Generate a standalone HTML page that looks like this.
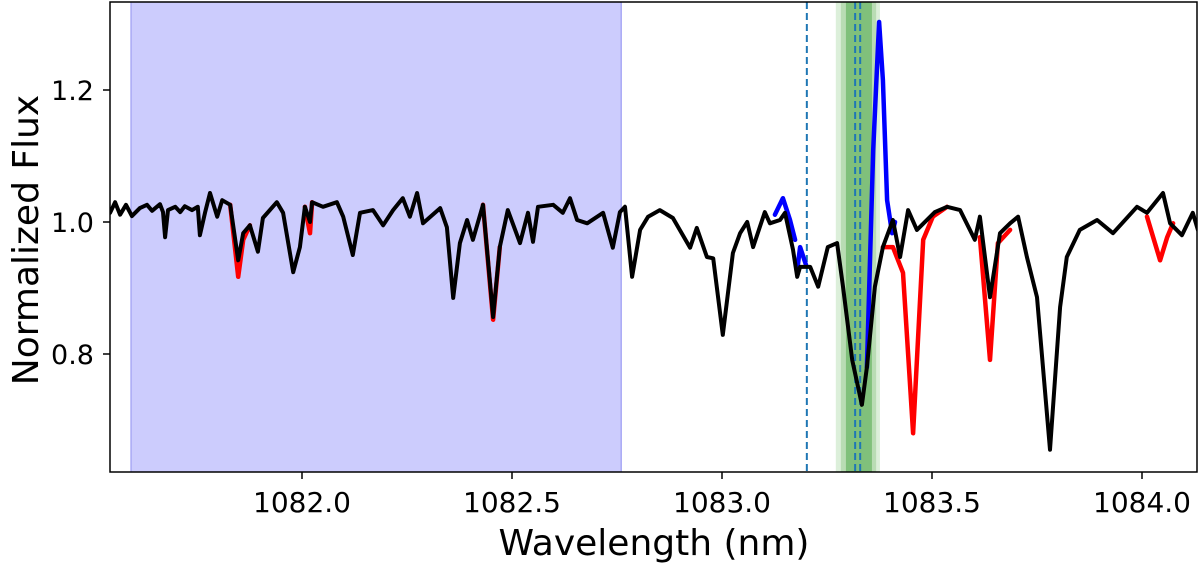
<!DOCTYPE html>
<html><head><meta charset="utf-8"><style>
html,body{margin:0;padding:0;background:#fff;}
svg{display:block;font-family:"DejaVu Sans","Liberation Sans",sans-serif;}
</style></head><body>
<svg id="chart" width="1200" height="564" viewBox="0 0 1200 564" xmlns="http://www.w3.org/2000/svg">
<defs><clipPath id="clip"><rect x="110" y="2" width="1087" height="470"/></clipPath></defs>
<g id="bg" clip-path="url(#clip)"></g>
<g id="lines" clip-path="url(#clip)"></g>
<rect x="110" y="2" width="1087" height="470" fill="none" stroke="#000" stroke-width="1.5"/>
<g id="axes"></g>
<text x="654" y="555" text-anchor="middle" font-size="36">Wavelength (nm)</text>
<text transform="translate(38,240) rotate(-90)" text-anchor="middle" font-size="36">Normalized Flux</text>
</svg>
<script>
const xTicks=[1082.0,1082.5,1083.0,1083.5,1084.0];
const xTickLabels=["1082.0","1082.5","1083.0","1083.5","1084.0"];
const yTicks=[0.8,1.0,1.2];
const yTickLabels=["0.8","1.0","1.2"];
const maskSpan=[1081.593,1082.760];
const dashedLines=[1083.202,1083.317,1083.329];
const greenBands=[[1083.271,1083.376],[1083.283,1083.367],[1083.295,1083.357]];
const blackWave=[1081.543,1081.555,1081.567,1081.581,1081.595,1081.614,1081.631,1081.643,1081.662,1081.669,1081.674,1081.681,1081.698,1081.710,1081.721,1081.738,1081.752,1081.757,1081.769,1081.781,1081.798,1081.810,1081.829,1081.848,1081.860,1081.876,1081.895,1081.907,1081.940,1081.955,1081.979,1081.995,1082.007,1082.019,1082.024,1082.050,1082.083,1082.098,1082.121,1082.138,1082.169,1082.193,1082.217,1082.240,1082.257,1082.274,1082.288,1082.329,1082.345,1082.360,1082.376,1082.393,1082.407,1082.431,1082.455,1082.471,1082.490,1082.519,1082.538,1082.550,1082.562,1082.598,1082.621,1082.638,1082.655,1082.679,1082.717,1082.740,1082.757,1082.769,1082.786,1082.805,1082.824,1082.852,1082.883,1082.924,1082.940,1082.964,1082.979,1083.002,1083.026,1083.043,1083.060,1083.074,1083.102,1083.114,1083.138,1083.150,1083.169,1083.179,1083.186,1083.210,1083.229,1083.252,1083.274,1083.288,1083.310,1083.333,1083.345,1083.364,1083.383,1083.407,1083.424,1083.443,1083.464,1083.507,1083.536,1083.567,1083.602,1083.614,1083.638,1083.662,1083.686,1083.705,1083.726,1083.750,1083.781,1083.805,1083.821,1083.852,1083.893,1083.931,1083.988,1084.012,1084.050,1084.067,1084.095,1084.121,1084.133];
const blackFlux=[1.014,1.030,1.011,1.026,1.009,1.021,1.026,1.017,1.027,1.015,0.977,1.018,1.023,1.015,1.024,1.018,1.023,0.980,1.014,1.044,1.008,1.033,1.026,0.942,0.983,0.995,0.955,1.006,1.030,1.014,0.924,0.962,1.023,1.000,1.030,1.023,1.030,1.008,0.950,1.014,1.018,0.995,1.018,1.036,1.008,1.044,0.998,1.021,0.992,0.885,0.968,1.003,0.973,1.026,0.856,0.962,1.018,0.968,1.014,0.970,1.023,1.026,1.014,1.036,1.003,0.998,1.014,0.961,1.015,1.023,0.917,0.988,1.008,1.018,1.006,0.961,0.991,0.947,0.945,0.829,0.953,0.983,1.000,0.962,1.015,0.998,1.003,1.014,0.958,0.917,0.932,0.932,0.902,0.962,0.968,0.902,0.791,0.723,0.780,0.902,0.962,1.003,0.947,1.018,0.988,1.015,1.023,1.018,0.973,1.008,0.886,0.983,0.998,1.008,0.947,0.886,0.655,0.871,0.947,0.988,1.003,0.983,1.023,1.014,1.044,0.998,0.980,1.014,0.988];
const redWave=[[1081.829,1081.848,1081.860,1081.876],[1082.007,1082.019,1082.024],[1082.431,1082.455,1082.471],[1083.383,1083.407,1083.431,1083.455,1083.479,1083.502,1083.536],[1083.614,1083.638,1083.657,1083.686],[1084.012,1084.043,1084.060,1084.074]];
const redFlux=[[1.026,0.917,0.973,0.995],[1.023,0.983,1.030],[1.026,0.852,0.962],[0.962,0.962,0.923,0.680,0.973,1.008,1.023],[0.977,0.791,0.968,0.988],[1.008,0.942,0.977,0.998]];
const blueWave=[[1083.126,1083.145,1083.162,1083.174],[1083.179,1083.186,1083.200],[1083.345,1083.360,1083.374,1083.383,1083.393,1083.405,1083.412]];
const blueFlux=[[1.011,1.036,1.003,0.973],[0.927,0.962,0.935],[0.780,1.109,1.303,1.215,1.033,0.983,1.000]];

const NS="http://www.w3.org/2000/svg";
const X=w=>302+(w-1082)*420;
const Y=f=>222-(f-1)*660;
function mk(tag,parent,attrs){const e=document.createElementNS(NS,tag);for(const k in attrs)e.setAttribute(k,attrs[k]);parent.appendChild(e);return e;}
const bg=document.getElementById('bg'),lines=document.getElementById('lines'),axes=document.getElementById('axes');

let r=mk('rect',bg,{x:X(maskSpan[0]),y:0,width:X(maskSpan[1])-X(maskSpan[0]),height:480,fill:'#ccccfd',stroke:'#a9a9f5','stroke-width':1.5});


const gcol=['#dcefda','#b9dcb4','#80c07b'];
greenBands.forEach((b,i)=>{const g=mk('rect',bg,{x:X(b[0]),y:0,width:X(b[1])-X(b[0]),height:480,fill:gcol[i]});

});
dashedLines.forEach(w=>{const l=mk('line',bg,{x1:X(w),x2:X(w),y1:2,y2:472,stroke:'#1f77b4','stroke-width':2,'stroke-dasharray':'7,4'});

});

function poly(ws,fs,col,wd,name){const p=mk('polyline',lines,{points:ws.map((w,i)=>X(w).toFixed(1)+','+Y(fs[i]).toFixed(1)).join(' '),fill:'none',stroke:col,'stroke-width':wd,'stroke-linejoin':'round','stroke-linecap':'round'});

}
redWave.forEach((ws,i)=>poly(ws,redFlux[i],'#ff0000',4.5,'telluric-spectrum-red'));
blueWave.forEach((ws,i)=>poly(ws,blueFlux[i],'#0000ff',4.5,'emission-spectrum-blue'));
poly(blackWave,blackFlux,'#000',4,'corrected-spectrum-black');

xTicks.forEach((t,i)=>{const l=mk('line',axes,{x1:X(t),x2:X(t),y1:472,y2:479,stroke:'#000','stroke-width':1.5});


const tx=mk('text',axes,{x:X(t),y:512,'text-anchor':'middle','font-size':28});tx.textContent=xTickLabels[i];

});
yTicks.forEach((t,i)=>{const l=mk('line',axes,{x1:103,x2:110,y1:Y(t),y2:Y(t),stroke:'#000','stroke-width':1.5});


const tx=mk('text',axes,{x:94,y:Y(t)+10,'text-anchor':'end','font-size':27});tx.textContent=yTickLabels[i];

});
</script>
</body></html>
